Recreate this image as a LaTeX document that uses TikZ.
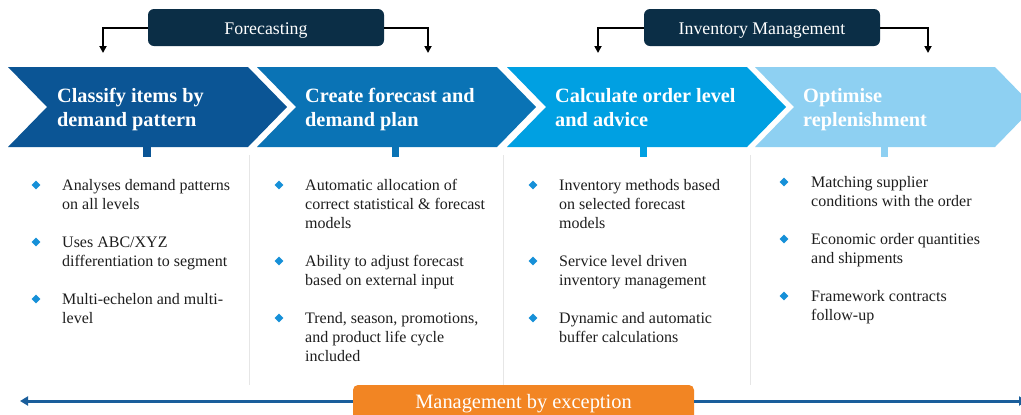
\documentclass[tikz,border=0pt]{standalone}
\usepackage{fontspec}
\setmainfont{Liberation Serif}
\usetikzlibrary{shapes.geometric,arrows.meta}

\definecolor{chevA}{HTML}{0B5595}
\definecolor{chevB}{HTML}{0A73B5}
\definecolor{chevC}{HTML}{00A0E2}
\definecolor{chevD}{HTML}{8ED0F2}
\definecolor{navyBox}{HTML}{0B2E46}
\definecolor{orangeBox}{HTML}{F28523}
\definecolor{bulletBlue}{HTML}{1690D8}
\definecolor{lineBlue}{HTML}{1A5E9B}
\definecolor{sepGray}{HTML}{E6E6E6}
\definecolor{bodyText}{HTML}{1E1E1E}

% one chevron of the process band: left x, colour
\newcommand\chevronshape[2]{%
  \fill[#2] (#1,67) -- ++(240,0) -- ++(39,40) -- ++(-39,40) -- ++(-240,0) -- ++(39,-40) -- cycle;}

% multi-line nodes sit on the baseline of their last line
\tikzset{
  head/.style={anchor=base west, inner sep=0, align=left, text=white,
    font=\bfseries\fontsize{20.3bp}{24bp}\selectfont},
  body/.style={anchor=base west, inner sep=0, align=left, text=bodyText,
    font=\fontsize{16bp}{19bp}\selectfont},
  bul/.style={diamond, aspect=1, fill=bulletBlue, inner sep=0,
    minimum width=9bp, minimum height=9bp},
  topbox/.style={rounded corners=6bp, fill=navyBox, text=white, inner sep=0,
    minimum width=236bp, minimum height=37bp, text height=18bp, text depth=4bp,
    font=\fontsize{17.8bp}{20bp}\selectfont},
  conn/.style={draw=black, line width=2bp, -{Triangle[length=7bp,width=7bp]}},
  sepline/.style={draw=sepGray, line width=1bp},
  spanline/.style={draw=lineBlue, line width=3bp, -{Triangle[length=8bp,width=9bp]}},
}

\begin{document}
\begin{tikzpicture}[x=1bp,y=-1bp]
\useasboundingbox (0,0) rectangle (1021,414);
\clip (0,0) rectangle (1021,414);
\fill[white] (0,0) rectangle (1021,414);

% process band
\chevronshape{8}{chevA}
\chevronshape{257}{chevB}
\chevronshape{507}{chevC}
\chevronshape{755}{chevD}

% small tabs under the band
\fill[chevA] (143,147) rectangle (151,157);
\fill[chevB] (392,147) rectangle (399,157);
\fill[chevC] (640,147) rectangle (647,157);
\fill[chevD] (881,147) rectangle (888,157);

% step titles
\node[head] (h1) at (57,126) {Classify items by\\demand pattern};
\node[head] (h2) at (305,126) {Create forecast and\\demand plan};
\node[head] (h3) at (555,126) {Calculate order level\\and advice};
\node[head] (h4) at (803,126) {Optimise\\replenishment};

% column separators
\draw[sepline] (249,155) -- (249,385);
\draw[sepline] (503,155) -- (503,385);
\draw[sepline] (750,155) -- (750,385);

% column 1
\node[bul] (b1a) at (36,185) {};
\node[body] (t1a) at (62,209) {Analyses demand patterns\\on all levels};
\node[bul] (b1b) at (36,242) {};
\node[body] (t1b) at (62,266) {Uses ABC/XYZ\\differentiation to segment};
\node[bul] (b1c) at (36,299) {};
\node[body] (t1c) at (62,323) {Multi-echelon and multi-\\level};

% column 2
\node[bul] (b2a) at (279,185) {};
\node[body] (t2a) at (305,228) {Automatic allocation of\\correct statistical \& forecast\\models};
\node[bul] (b2b) at (279,261) {};
\node[body] (t2b) at (305,285) {Ability to adjust forecast\\based on external input};
\node[bul] (b2c) at (279,318) {};
\node[body] (t2c) at (305,361) {Trend, season, promotions,\\and product life cycle\\included};

% column 3
\node[bul] (b3a) at (533,185) {};
\node[body] (t3a) at (559,228) {Inventory methods based\\on selected forecast\\models};
\node[bul] (b3b) at (533,261) {};
\node[body] (t3b) at (559,285) {Service level driven\\inventory management};
\node[bul] (b3c) at (533,318) {};
\node[body] (t3c) at (559,342) {Dynamic and automatic\\buffer calculations};

% column 4
\node[bul] (b4a) at (784,182) {};
\node[body] (t4a) at (811,206) {Matching supplier\\conditions with the order};
\node[bul] (b4b) at (784,239) {};
\node[body] (t4b) at (811,263) {Economic order quantities\\and shipments};
\node[bul] (b4c) at (784,296) {};
\node[body] (t4c) at (811,320) {Framework contracts\\follow-up};

% phase labels with their brackets
\node[topbox] (fc) at (266,27.5) {Forecasting};
\node[topbox] (im) at (762,27.5) {Inventory Management};
\coordinate (fcL) at (103,53);
\coordinate (fcR) at (428,53);
\coordinate (imL) at (598,53);
\coordinate (imR) at (928,53);
\draw[conn] (fc.west) -| (fcL);
\draw[conn] (fc.east) -| (fcR);
\draw[conn] (im.west) -| (imL);
\draw[conn] (im.east) -| (imR);

% span arrow with its label
\node[rounded corners=5bp, fill=orangeBox, text=white, inner sep=0,
  minimum width=341bp, minimum height=40bp, text height=14bp, text depth=8bp,
  font=\fontsize{20.4bp}{24bp}\selectfont] (mbe) at (523.5,405) {Management by exception};
\coordinate (spanL) at (20,401);
\coordinate (spanR) at (1027,401);
\draw[spanline] (mbe.west |- spanL) -- (spanL);
\draw[spanline] (mbe.east |- spanR) -- (spanR);
\end{tikzpicture}
\end{document}
